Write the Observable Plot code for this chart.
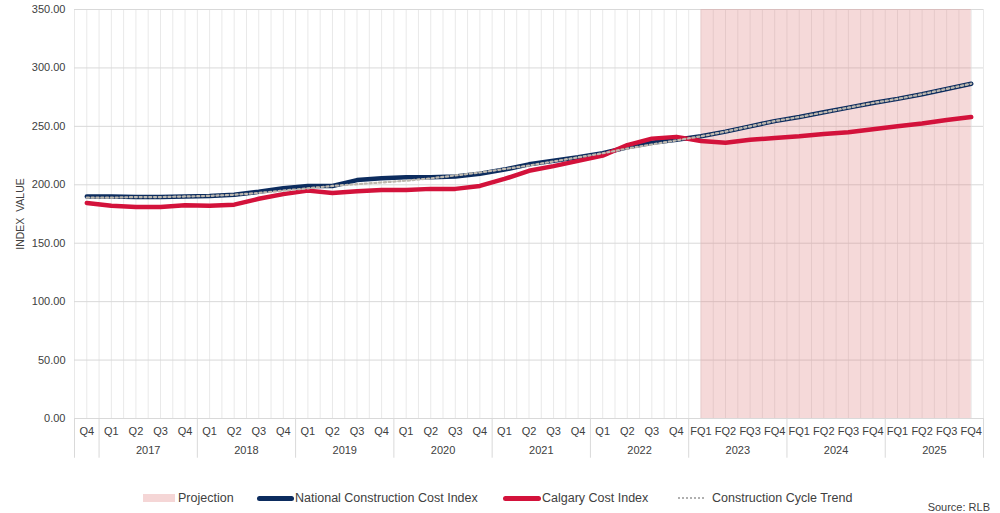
<!DOCTYPE html>
<html><head><meta charset="utf-8">
<script src="https://cdn.jsdelivr.net/npm/d3@7"></script>
<script src="https://cdn.jsdelivr.net/npm/@observablehq/plot@0.6"></script>
<style>
body{margin:0;background:#fff;font-family:"Liberation Sans",Arial,sans-serif;}
#chart{position:relative;width:1000px;height:513px;overflow:hidden;}
#chart svg{position:absolute;left:0;top:0;}
.lt{position:absolute;font-family:"Liberation Sans",Arial,sans-serif;font-size:12.5px;color:#404040;white-space:nowrap;line-height:16px;}
.sw{position:absolute;}
</style></head><body><div id="chart"></div>
<script>
const quarterLabels = ["Q4",
  "Q1","Q2","Q3","Q4", "Q1","Q2","Q3","Q4", "Q1","Q2","Q3","Q4",
  "Q1","Q2","Q3","Q4", "Q1","Q2","Q3","Q4", "Q1","Q2","Q3","Q4",
  "FQ1","FQ2","FQ3","FQ4", "FQ1","FQ2","FQ3","FQ4", "FQ1","FQ2","FQ3","FQ4"];
const pointYears = ["",
  "2017","2017","2017","2017", "2018","2018","2018","2018", "2019","2019","2019","2019",
  "2020","2020","2020","2020", "2021","2021","2021","2021", "2022","2022","2022","2022",
  "2023","2023","2023","2023", "2024","2024","2024","2024", "2025","2025","2025","2025"];
const yTicks = [0, 50, 100, 150, 200, 250, 300, 350];
const national = [190,
  190, 189.5, 189.5, 190, 190.5, 191.5, 194, 197, 199, 199, 204, 205.5,
  206.5, 206.5, 207, 209.5, 213, 217.5, 220.5, 223.5, 227, 232, 236, 238.5,
  241.5, 245.5, 250, 254.5, 258, 262, 266, 270, 273.5, 277.5, 282, 286.5];
const calgary = [184.5,
  182, 181, 181, 182.5, 182, 183, 188, 192, 195, 193, 194.5, 195.5,
  195.5, 196.5, 196.5, 199, 205, 212, 216, 220.5, 225, 234, 239.5, 241,
  237.5, 236, 238.5, 240, 241.5, 243.5, 245, 247.5, 250, 252.5, 255.5, 258];
const trend = [189,
  189, 189.5, 189.5, 190, 190.5, 191.5, 193, 195, 197, 199, 200.5, 202,
  203.5, 205.5, 208, 210.5, 213.5, 216.5, 220, 223.5, 227, 231, 234.5, 238,
  241.5, 245.5, 250, 254.5, 258, 262, 266, 270, 273.5, 277.5, 282, 286.5];

const n = quarterLabels.length;
const idx = d3.range(n);
const data = idx.map(i => ({i, nat: national[i], cal: calgary[i], tr: trend[i]}));
const halfSteps = d3.range(-0.5, n, 0.5);
const bounds = [-0.5];
for (let i = 1; i < n; i++) if (pointYears[i] !== pointYears[i-1]) bounds.push(i - 0.5);
bounds.push(n - 0.5);
const yearNames = Array.from(new Set(pointYears.filter(y => y)));
const yearCenters = yearNames.map(y => d3.mean(idx.filter(i => pointYears[i] === y)));
const projStart = quarterLabels.findIndex(q => q.startsWith("FQ"));
const proj = [{x1: projStart, x2: n - 1}];

const plot = Plot.plot({
  width: 1000, height: 480,
  marginLeft: 74, marginRight: 17, marginTop: 9, marginBottom: 62,
  x: {type: "linear", domain: [-0.5, n - 0.5]},
  y: {domain: [0, 350]},
  style: {fontFamily: "Liberation Sans, Arial, sans-serif", fontSize: "11px", color: "#404040", background: "#fff"},
  marks: [
    Plot.ruleX(halfSteps, {y1: 0, y2: 350, stroke: "#e9e9e9", strokeWidth: 1}),
    Plot.ruleY(yTicks.filter(d => d > 0), {stroke: "#d9d9d9"}),
    Plot.rect(proj, {x1: "x1", x2: "x2", y1: 0, y2: 350, fill: "rgb(222,128,128)", fillOpacity: 0.3}),
    Plot.ruleY([0], {stroke: "#d9d9d9"}),
    Plot.ruleX(bounds, {y1: 0, y2: -34, stroke: "#d9d9d9"}),
    Plot.line(data, {x: "i", y: "nat", stroke: "#0c2c5e", strokeWidth: 4.5}),
    Plot.line(data, {x: "i", y: "cal", stroke: "#d3123b", strokeWidth: 4.5}),
    Plot.line(data, {x: "i", y: "tr", stroke: "#bdb8ae", strokeWidth: 2.2, strokeDasharray: "2.2,2.6"}),
    Plot.axisY({ticks: yTicks, tickFormat: d => d.toFixed(2), tickSize: 0, tickPadding: 9, label: null}),
    Plot.axisX({ticks: idx, tickFormat: i => quarterLabels[i], tickSize: 0, tickPadding: 8.5, label: null}),
    Plot.axisX({ticks: yearCenters, tickFormat: (d, k) => yearNames[k], tickSize: 0, tickPadding: 27.5, label: null}),
    Plot.text(["INDEX  VALUE"], {frameAnchor: "left", dx: -54, rotate: -90, textAnchor: "middle", fontSize: 10.5, fill: "#404040"})
  ]
});
const chart = document.getElementById("chart");
chart.appendChild(plot);

const legendItems = [
  {label: "Projection", sw: {left: 143, top: 494, width: 32, height: 8, background: "#f5d6d6"}, tx: 178},
  {label: "National Construction Cost Index", sw: {left: 257, top: 496, width: 37, height: 5, background: "#0c2c5e", borderRadius: "3px"}, tx: 295},
  {label: "Calgary Cost Index", sw: {left: 503, top: 496, width: 38, height: 5, background: "#d3123b", borderRadius: "3px"}, tx: 542},
  {label: "Construction Cycle Trend", sw: {left: 678, top: 497, width: 26, height: 0, borderTop: "2px dotted #b0b0b0"}, tx: 712}
];
for (const it of legendItems) {
  const s = document.createElement("div");
  s.className = "sw";
  for (const [k, v] of Object.entries(it.sw)) s.style[k] = typeof v === "number" ? v + "px" : v;
  chart.appendChild(s);
  const t = document.createElement("div");
  t.className = "lt";
  t.style.left = it.tx + "px";
  t.style.top = "490px";
  t.textContent = it.label;
  chart.appendChild(t);
}
const src = document.createElement("div");
src.className = "lt";
src.style.right = "10px";
src.style.top = "499px";
src.style.fontSize = "11px";
src.textContent = "Source: RLB";
chart.appendChild(src);
</script>
</body></html>
